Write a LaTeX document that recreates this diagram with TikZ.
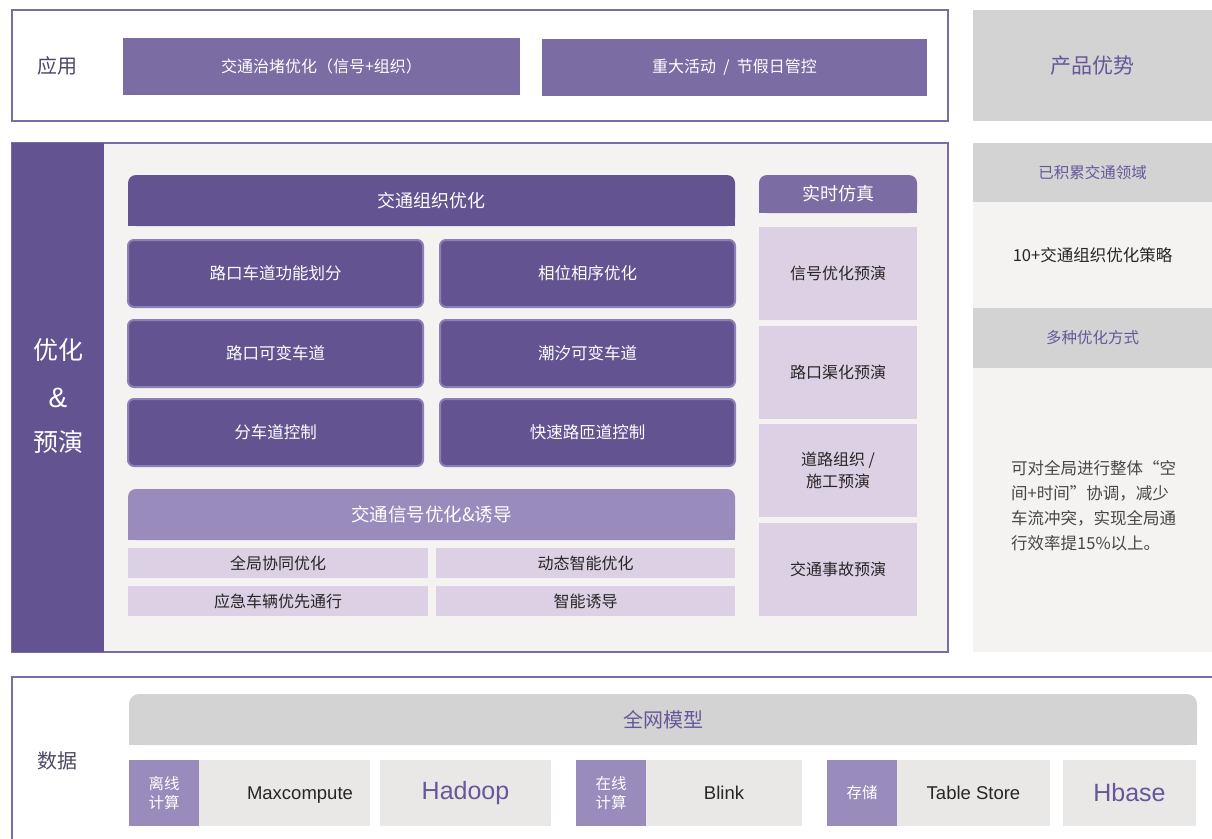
\documentclass[tikz,border=0pt]{standalone}
\usepackage{fontspec}
\setmainfont{Noto Sans CJK SC}
\newfontfamily\latin{Liberation Sans}
\newcommand\fsz[2]{\fontsize{#1}{#2}\selectfont}
\definecolor{dpurple}{HTML}{635391}
\definecolor{mpurple}{HTML}{7B6CA3}
\definecolor{bpurple}{HTML}{8C7FB6}
\definecolor{lpurple}{HTML}{998BBB}
\definecolor{lilac}{HTML}{DCD0E4}
\definecolor{grayhd}{HTML}{D3D3D3}
\definecolor{panel}{HTML}{F4F3F1}
\definecolor{dlight}{HTML}{E9E8E6}
\definecolor{outline}{HTML}{7A6CA6}
\definecolor{ptext}{HTML}{67579A}
\definecolor{dtext}{HTML}{262626}
\definecolor{ltext}{HTML}{4D4866}
\begin{document}
\begin{tikzpicture}[x=1pt,y=-1pt,
  box/.style={anchor=north west, inner sep=0pt, outer sep=0pt, align=center},
  frame/.style={box, draw=outline, line width=1.5pt},
  appbox/.style={box, fill=mpurple, text=white, font=\fsz{16}{20}},
  gbox/.style={box, fill=dpurple, draw=bpurple, line width=2pt, rounded corners=6pt,
     minimum width=295, minimum height=67, text=white, font=\fsz{16.5}{20}},
  simbox/.style={box, fill=lilac, minimum width=158, minimum height=93, text=dtext, font=\fsz{16}{22}},
  smallbox/.style={box, fill=lilac, minimum height=30, text=dtext, font=\fsz{16}{20}},
  sidehd/.style={box, fill=grayhd, minimum width=239, text=ptext, font=\fsz{15.5}{20}},
  sidebody/.style={box, fill=panel, minimum width=239, text=dtext, font=\fsz{16.5}{20}},
  tagbox/.style={box, fill=lpurple, minimum width=70, minimum height=66, text=white, font=\fsz{15.5}{19}},
  techbox/.style={box, fill=dlight, minimum height=66, text=dtext, font=\latin\fsz{18.5}{22}},
  bigtech/.style={box, fill=dlight, minimum height=66, text=ptext, font=\latin\fsz{25}{28}},
  lbl/.style={anchor=center, inner sep=0pt, outer sep=0pt, align=center}
]
\useasboundingbox (0,0) rectangle (1212,838);
\fill[white] (0,0) rectangle (1212,838);

% ---------- application row ----------
\node[frame, fill=white, minimum width=936, minimum height=111] (app) at (12,10) {};
\node[lbl, text=ltext, font=\fsz{20}{24}] (applbl) at (57,66) {应用};
\node[appbox, minimum width=397, minimum height=57] (app1) at (123,38) {交通治堵优化（信号+组织）};
\node[appbox, minimum width=385, minimum height=57] (app2) at (542,39) {重大活动\ \ /\ \ 节假日管控};
\node[box, fill=grayhd, minimum width=239, minimum height=111, text=ptext, font=\fsz{21}{24}] (adv) at (973,10) {产品优势};

% ---------- optimisation block ----------
\node[frame, fill=panel, minimum width=936, minimum height=509] (mid) at (12,143) {};
\node[box, fill=dpurple, minimum width=92, minimum height=509] (bar) at (12,143) {};
\node[lbl, text=white, font=\fsz{25}{28}] (bar1) at (58,350) {优化};
\node[lbl, text=white, font=\latin\fsz{28}{30}] (bar2) at (58,398) {\&};
\node[lbl, text=white, font=\fsz{25}{28}] (bar3) at (58,442) {预演};

% header: traffic organisation
\fill[dpurple] (128,200) rectangle (735,226);
\node[box, fill=dpurple, rounded corners=8pt, minimum width=607, minimum height=51, text=white, font=\fsz{18}{22}] (org) at (128,175) {交通组织优化};
\node[gbox] (g11) at (128,240) {路口车道功能划分};
\node[gbox] (g12) at (440,240) {相位相序优化};
\node[gbox] (g21) at (128,320) {路口可变车道};
\node[gbox] (g22) at (440,320) {潮汐可变车道};
\node[gbox] (g31) at (128,399) {分车道控制};
\node[gbox] (g32) at (440,399) {快速路匝道控制};

% header: signal optimisation
\fill[lpurple] (128,515) rectangle (735,540);
\node[box, fill=lpurple, rounded corners=8pt, minimum width=607, minimum height=51, text=white, font=\fsz{18.5}{22}] (sig) at (128,489) {交通信号优化\&诱导};
\node[smallbox, minimum width=300] (s11) at (128,548) {全局协同优化};
\node[smallbox, minimum width=299] (s12) at (436,548) {动态智能优化};
\node[smallbox, minimum width=300] (s21) at (128,586) {应急车辆优先通行};
\node[smallbox, minimum width=299] (s22) at (436,586) {智能诱导};

% real-time simulation
\fill[mpurple] (759,195) rectangle (917,213);
\node[box, fill=mpurple, rounded corners=8pt, minimum width=158, minimum height=38, text=white, font=\fsz{18}{22}] (sim) at (759,175) {实时仿真};
\node[simbox] (p1) at (759,227) {信号优化预演};
\node[simbox] (p2) at (759,326) {路口渠化预演};
\node[simbox] (p3) at (759,424) {道路组织 /\\施工预演};
\node[simbox] (p4) at (759,523) {交通事故预演};

% ---------- side panel ----------
\node[sidehd, minimum height=59] (sh1) at (973,143) {已积累交通领域};
\node[sidebody, minimum height=106] (sb1) at (973,202) {10+交通组织优化策略};
\node[sidehd, minimum height=60] (sh2) at (973,308) {多种优化方式};
\node[sidebody, minimum height=284] (sb2) at (973,368) {};
\node[anchor=west, inner sep=0pt, align=left, text=dtext!85!white, font=\fsz{16.5}{25}] (para) at (1011,506)
  {可对全局进行整体“空\\间+时间”协调，减少\\车流冲突，实现全局通\\行效率提15\%以上。};

% ---------- data row ----------
\draw[outline, line width=1.5pt] (12,845) -- (12,677) -- (1220,677);
\node[lbl, text=ltext, font=\fsz{20}{24}] (datalbl) at (57,761) {数据};
\fill[grayhd] (129,720) rectangle (1197,745);
\node[box, fill=grayhd, rounded corners=10pt, minimum width=1068, minimum height=51, text=ptext, font=\fsz{20}{24}] (model) at (129,694) {全网模型};

\node[tagbox] (t1) at (129,760) {离线\\计算};
\node[techbox, minimum width=171] (m1) at (199,760) {};
\node[lbl, text=dtext, font=\latin\fsz{18.5}{22}] (m1t) at (300,795) {Maxcompute};
\node[bigtech, minimum width=171] (h1) at (380,760) {Hadoop};
\node[tagbox] (t2) at (576,760) {在线\\计算};
\node[techbox, minimum width=156] (b1) at (646,760) {Blink};
\node[tagbox] (t3) at (827,760) {存储};
\node[techbox, minimum width=153] (ts) at (897,760) {Table Store};
\node[bigtech, minimum width=133] (hb) at (1063,760) {Hbase};
\end{tikzpicture}
\end{document}
